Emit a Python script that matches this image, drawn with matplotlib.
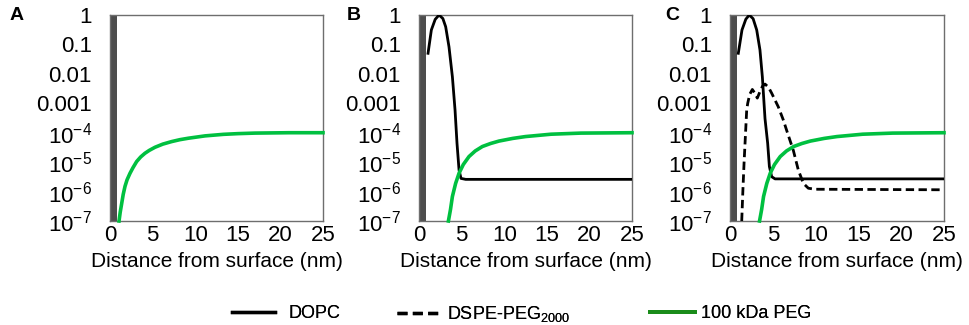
import matplotlib
matplotlib.use("Agg")
import matplotlib.pyplot as plt
from matplotlib.lines import Line2D

plt.rcParams['font.family'] = ['Liberation Sans', 'DejaVu Sans']
plt.rcParams['mathtext.fontset'] = 'custom'
plt.rcParams['mathtext.rm'] = 'Liberation Sans'
plt.rcParams['mathtext.it'] = 'Liberation Sans'

# ---- data ----
panel_labels = ["A", "B", "C"]
x_ticks = [0, 5, 10, 15, 20, 25]
y_ticks = [1, 0.1, 0.01, 0.001, 1e-4, 1e-5, 1e-6, 1e-7]
y_tick_labels = ["1", "0.1", "0.01", "0.001", "$10^{-4}$", "$10^{-5}$", "$10^{-6}$", "$10^{-7}$"]
surface_width = 0.86

peg_a_x = [1.06, 1.2, 1.37, 1.55, 1.76, 2.0, 2.35, 2.7, 3.13, 3.6, 4.1, 4.6, 5.28, 6.2, 7.24, 8.2, 9.2, 11.15, 13.3, 15, 17, 21, 25]
peg_a_y = [1.0e-7, 2.0e-7, 3.9e-7, 8.0e-7, 1.5e-6, 2.5e-6, 4.2e-6, 6.5e-6, 1.05e-5, 1.5e-5, 2.0e-5, 2.5e-5, 3.2e-5, 4.1e-5, 5.0e-5, 5.8e-5, 6.5e-5, 7.8e-5, 8.8e-5, 9.3e-5, 9.7e-5, 1.0e-4, 1.0e-4]

peg_bc_x = [3.45, 3.58, 3.7, 3.92, 4.3, 4.7, 5.2, 5.87, 6.6, 7.44, 8.4, 9.39, 11.0, 12.5, 15.5, 19, 25]
peg_bc_y = [1.0e-7, 1.6e-7, 2.5e-7, 6.8e-7, 1.9e-6, 4.2e-6, 8.3e-6, 1.55e-5, 2.4e-5, 3.4e-5, 4.3e-5, 5.2e-5, 6.4e-5, 7.4e-5, 8.9e-5, 9.7e-5, 1.0e-4]

dopc_b_x = [1.06, 1.45, 1.9, 2.35, 2.8, 3.13, 3.52, 3.92, 4.23, 4.46, 4.7, 4.93, 5.48, 25]
dopc_b_y = [0.05, 0.31, 0.71, 1.0, 0.76, 0.40, 0.083, 0.0079, 5.9e-4, 4.4e-5, 5.4e-6, 2.8e-6, 2.6e-6, 2.6e-6]

dopc_c_x = [0.97, 1.4, 1.85, 2.25, 2.7, 3.12, 3.5, 3.78, 4.09, 4.4, 4.6, 4.87, 5.26, 25]
dopc_c_y = [0.05, 0.31, 0.72, 1.0, 0.75, 0.31, 0.065, 0.0079, 3.0e-4, 4.4e-5, 7.1e-6, 3.2e-6, 2.7e-6, 2.7e-6]

dspe_c_x = [1.37, 1.5, 1.64, 1.95, 2.07, 2.3, 2.61, 2.9, 3.19, 3.5, 3.8, 4.09, 4.5, 4.87, 5.64, 6.23, 6.62, 7.4, 7.98, 8.57, 9.15, 9.93, 25]
dspe_c_y = [1.0e-7, 1.0e-6, 9.1e-6, 5.9e-4, 1.0e-3, 2.0e-3, 2.95e-3, 2.2e-3, 1.5e-3, 2.5e-3, 3.8e-3, 4.5e-3, 3.5e-3, 2.2e-3, 7.6e-4, 2.7e-4, 1.2e-4, 2.5e-5, 5.4e-6, 1.9e-6, 1.3e-6, 1.2e-6, 1.15e-6]

legend_labels = ["DOPC", "DSPE-PEG$_{2000}$", "100 kDa PEG"]

# ---- style ----
GREEN = "#00c040"
GREEN_LEG = "#1a8c1a"
BAR = "#4d4d4d"
FRAME = "#6e6e6e"

fig = plt.figure(figsize=(9.69, 3.25), dpi=100)
W, H = 969, 325
lefts = [110, 419, 730]
widths = [213, 213, 214]
label_x = [10, 347, 665]
top_px, bot_px = 15, 221

axes = []
for i in range(3):
    ax = fig.add_axes([lefts[i] / W, 1 - bot_px / H, widths[i] / W, (bot_px - top_px) / H])
    ax.set_yscale('log')
    ax.set_xlim(0, 25)
    ax.set_ylim(1e-7, 1)
    ax.axvspan(0, surface_width, color=BAR, lw=0, zorder=1)
    ax.set_xticks(x_ticks)
    ax.set_xticklabels([str(t) for t in x_ticks])
    ax.set_yticks(y_ticks)
    ax.set_yticklabels(y_tick_labels)
    ax.minorticks_off()
    ax.tick_params(length=0, labelsize=16, colors='black')
    ax.tick_params(axis='y', pad=13)
    ax.tick_params(axis='x', pad=3)
    for s in ax.spines.values():
        s.set_color(FRAME)
        s.set_linewidth(1.0)
    ax.set_xlabel("Distance from surface (nm)", fontsize=15, labelpad=4)
    fig.text(label_x[i] / W, 1 - 15 / H, panel_labels[i], fontsize=14,
             fontweight='bold', va='center', ha='left')
    axes.append(ax)

axes[0].plot(peg_a_x, peg_a_y, color=GREEN, lw=2.6, zorder=3, clip_on=False)

axes[1].plot(dopc_b_x, dopc_b_y, color='black', lw=2.0, zorder=3)
axes[1].plot(peg_bc_x, peg_bc_y, color=GREEN, lw=2.6, zorder=4, clip_on=False)

axes[2].plot(dopc_c_x, dopc_c_y, color='black', lw=2.0, zorder=3)
axes[2].plot(dspe_c_x, dspe_c_y, color='black', lw=2.0, ls=(0, (3, 1.6)), zorder=3, clip_on=False)
axes[2].plot(peg_bc_x, peg_bc_y, color=GREEN, lw=2.6, zorder=4, clip_on=False)

handles = [Line2D([], [], color='black', lw=2.4),
           Line2D([], [], color='black', lw=2.4, ls=(0, (3, 1.6))),
           Line2D([], [], color=GREEN_LEG, lw=2.8)]
legend_x = [232, 397, 650]
handle_len = [2.4, 2.3, 2.5]
text_pad = [0.75, 0.45, 0.35]
for h, lab, lx, hl, tp in zip(handles, legend_labels, legend_x, handle_len, text_pad):
    leg = fig.legend([h], [lab], loc='center left', bbox_to_anchor=(lx / W, 1 - 314 / H),
                     frameon=False, fontsize=13, handlelength=hl, handletextpad=tp,
                     borderpad=0, borderaxespad=0)
    fig.add_artist(leg)

fig.savefig("out.png", dpi=100)
